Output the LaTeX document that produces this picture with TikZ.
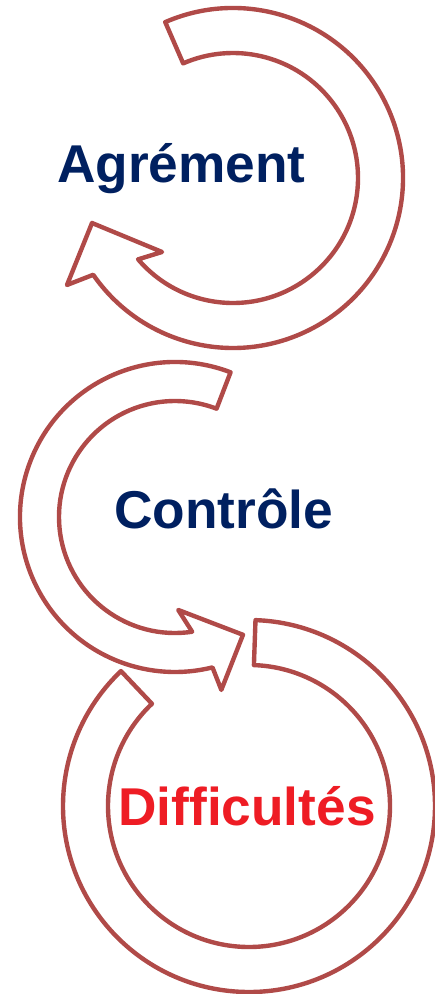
\documentclass[tikz,border=0pt]{standalone}
\usepackage{fontspec}
\setmainfont{Liberation Sans}
\usetikzlibrary{positioning}
\definecolor{loopLine}{HTML}{B04A48}
\definecolor{loopNavy}{HTML}{002060}
\definecolor{loopRed}{HTML}{EE1C24}

\begin{document}
\begin{tikzpicture}[
  x=0.02cm,y=0.02cm,
  band/.style={draw=loopLine, fill=white, line width=2.5pt, line join=round},
  word/.style={font=\fontsize{30.3}{36}\selectfont\bfseries, inner sep=0pt,
    anchor=base}
]
\useasboundingbox (0,0) rectangle (434,-994);

% bottom loop, open end tucked under the middle one
\begin{scope}[shift={(249,-806)}]
  \draw[band] (88:186) arc[start angle=88, end angle=-226.5, radius=186]
    -- (-226.5:141) arc[start angle=-226.5, end angle=88, radius=141] -- cycle;
\end{scope}

% middle loop
\begin{scope}[shift={(175,-517)}]
  \draw[band] (69:155) arc[start angle=69, end angle=284, radius=155]
    -- (285:179) -- (300:136) -- (272:93) -- (278.5:116)
    arc[start angle=278.5, end angle=69, radius=116] -- cycle;
\end{scope}

% top loop
\begin{scope}[shift={(233,-178)}]
  \draw[band] (113.5:170) arc[start angle=113.5, end angle=-145.3, radius=170]
    -- (-147.2:197.5) -- (-162.3:148) -- (-133.8:102.5) -- (-139.4:125)
    arc[start angle=-139.4, end angle=113.5, radius=125] -- cycle;
\end{scope}

\node[word, text=loopNavy] (agrement) at (181.5,-182) {Agrément};
\node[word, text=loopNavy] (controle) at (223.5,-528) {Contrôle};
\node[word, text=loopRed] (difficultes) at (247,-825) {Difficultés};
\end{tikzpicture}
\end{document}
